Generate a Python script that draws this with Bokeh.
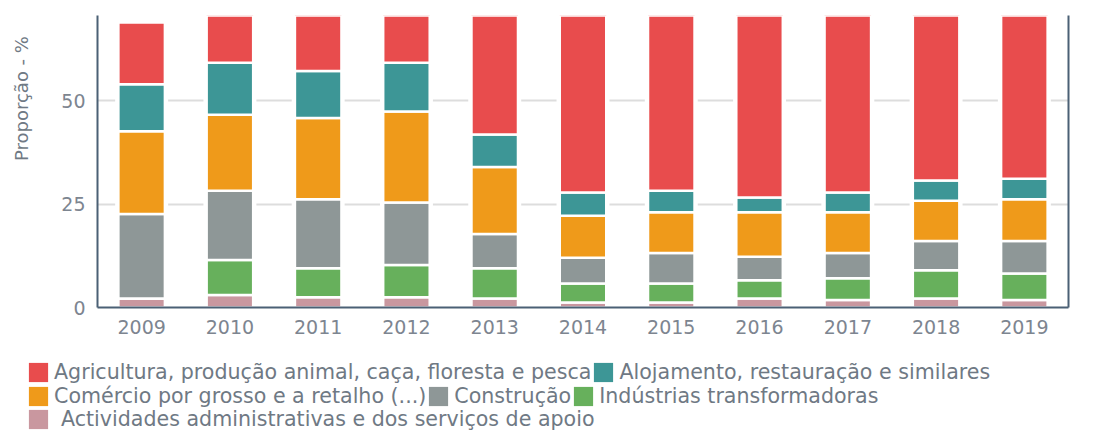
import math
from bokeh.plotting import figure
from bokeh.models import (Range1d, FactorRange, FixedTicker, LinearAxis, Legend,
                          LegendItem, ColumnDataSource)
from bokeh.embed import file_html
from bokeh.resources import INLINE

# ---------------- data ----------------
years = ["2009", "2010", "2011", "2012", "2013", "2014", "2015", "2016", "2017", "2018", "2019"]

actividades = [2.2, 3.0, 2.5, 2.5, 2.2, 1.2, 1.2, 2.2, 1.8, 2.2, 1.8]
industrias = [0.0, 8.5, 7.0, 7.8, 7.3, 4.6, 4.6, 4.4, 5.3, 6.8, 6.4]
construcao = [20.4, 16.7, 16.7, 15.1, 8.3, 6.2, 7.4, 5.7, 6.1, 7.1, 7.9]
comercio = [20.0, 18.4, 19.6, 22.0, 16.2, 10.2, 9.8, 10.7, 9.8, 9.7, 10.1]
alojamento = [11.4, 12.6, 11.4, 11.8, 7.8, 5.6, 5.2, 3.6, 4.8, 4.9, 4.9]
agricultura = [14.9, 19.5, 18.3, 19.6, 45.8, 58.5, 58.2, 59.8, 58.1, 55.1, 54.6]

series_names = [
    "Actividades administrativas e dos serviços de apoio",
    "Indústrias transformadoras",
    "Construção",
    "Comércio por grosso e a retalho (...)",
    "Alojamento, restauração e similares",
    "Agricultura, produção animal, caça, floresta e pesca",
]
series_colors = ["#C9979F", "#67B05C", "#8E9797", "#EF9A1A", "#3D9696", "#E84C4D"]
y_ticks = [0, 25, 50]
y_max = 70.6
y_title = "Proporção - %"

# ---------------- main figure ----------------
keys = ["actividades", "industrias", "construcao", "comercio", "alojamento", "agricultura"]
data = dict(years=years, actividades=actividades, industrias=industrias,
            construcao=construcao, comercio=comercio, alojamento=alojamento,
            agricultura=agricultura)
data["total"] = [sum(v) for v in zip(actividades, industrias, construcao,
                                      comercio, alojamento, agricultura)]
src = ColumnDataSource(data)

axis_color = "#4B6075"
tick_color = "#7D8590"
text_color = "#6F7984"

p = figure(x_range=FactorRange(*years), y_range=Range1d(0, y_max),
           width=1116, height=340, output_backend="svg", toolbar_location=None,
           min_border_left=97, min_border_right=48, min_border_top=15,
           min_border_bottom=33)
p.outline_line_color = None
p.background_fill_color = "white"

# white backing so grid lines stop short of the bars
p.vbar(x="years", top="total", width=0.6, source=src, fill_color="white",
       line_color=None)

renderers = p.vbar_stack(keys, x="years", width=0.527, source=src,
                         color=series_colors, line_color="white", line_width=2.5)

# axes
p.xaxis.axis_line_color = axis_color
p.xaxis.axis_line_width = 2
p.xaxis.major_tick_line_color = None
p.xaxis.minor_tick_line_color = None
p.xaxis.major_label_standoff = 6
p.xaxis.major_label_text_font = "DejaVu Sans"
p.xaxis.major_label_text_font_size = "19px"
p.xaxis.major_label_text_color = tick_color

p.yaxis.ticker = FixedTicker(ticks=y_ticks)
p.yaxis.axis_line_color = axis_color
p.yaxis.axis_line_width = 2
p.yaxis.major_tick_line_color = None
p.yaxis.minor_tick_line_color = None
p.yaxis.major_label_standoff = 6
p.yaxis.major_label_text_font = "DejaVu Sans"
p.yaxis.major_label_text_font_size = "19px"
p.yaxis.major_label_text_color = tick_color
# the title sits above the frame's centre in the original: pad its start
p.yaxis.axis_label = "\u00a0" * 22 + y_title
p.yaxis.axis_label_standoff = 26
p.yaxis.axis_label_text_font = "DejaVu Sans"
p.yaxis.axis_label_text_font_size = "18px"
p.yaxis.axis_label_text_font_style = "normal"
p.yaxis.axis_label_text_color = text_color

right_axis = LinearAxis(ticker=FixedTicker(ticks=[]), axis_line_color=axis_color,
                        axis_line_width=2, major_tick_line_color=None,
                        minor_tick_line_color=None, major_label_text_font_size="0px",
                        major_label_standoff=0)
p.add_layout(right_axis, "right")

p.xgrid.visible = False
p.ygrid.ticker = FixedTicker(ticks=y_ticks)
p.ygrid.grid_line_color = "#DDDDDD"
p.ygrid.grid_line_width = 2

# ---------------- legend strip ----------------
lg = figure(width=1116, height=90, output_backend="svg", toolbar_location=None,
            x_range=Range1d(0, 1), y_range=Range1d(0, 1),
            x_axis_location=None, y_axis_location=None,
            min_border_left=0, min_border_right=0, min_border_top=0,
            min_border_bottom=0)
lg.outline_line_color = None
lg.grid.visible = False

# swatch renderers for the legend (their single point lies outside the view)
swatch = ColumnDataSource(dict(x=[5.0], top=[5.0]))
lrs = {k: lg.vbar(x="x", top="top", bottom=4.0, width=0.5, source=swatch,
                  fill_color=c, line_color=None)
       for k, c in zip(keys, series_colors)}

name_of = dict(zip(keys, series_names))
rows = [["agricultura", "alojamento"],
        ["comercio", "construcao", "industrias"],
        ["actividades"]]
row_bottom = [46, 22, -1]
for i, (row, yb) in enumerate(zip(rows, row_bottom)):
    leg = Legend(items=[LegendItem(label=name_of[k], renderers=[lrs[k]]) for k in row],
                 location=(26, yb), orientation="horizontal", padding=0, margin=0,
                 spacing=0, label_standoff=11 if i == 2 else 4,
                 glyph_width=24, glyph_height=24, label_height=20,
                 border_line_color=None, background_fill_alpha=0,
                 label_text_font="DejaVu Sans", label_text_font_size="20.6px",
                 label_text_color=text_color)
    lg.add_layout(leg, "center")

open("out.html", "w").write(file_html([p, lg], INLINE))
